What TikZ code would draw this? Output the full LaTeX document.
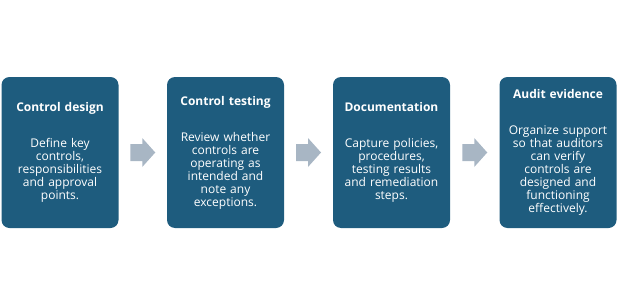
\documentclass[tikz,border=0pt]{standalone}
\usepackage{fontspec}
\setmainfont{Open Sans}
\definecolor{boxblue}{HTML}{1E5C7E}
\definecolor{arrowgray}{HTML}{A8B6C4}
\tikzset{
  stepbox/.style={fill=boxblue, rounded corners=8pt, minimum width=117pt, minimum height=151pt,
    text width=114pt, align=center, inner sep=0pt, text=white,
    font=\fontsize{12}{13}\selectfont},
  flowarrow/.style={fill=arrowgray, draw=none}
}
\newcommand{\boxtitle}[1]{\textbf{#1}\\[23pt]}
\newcommand{\flowarr}[1]{%
  \fill[flowarrow] ($(#1)+(-12.5,-8.5)$) -- ($(#1)+(-0.5,-8.5)$) -- ($(#1)+(-0.5,-14.5)$)
    -- ($(#1)+(12.5,0)$) -- ($(#1)+(-0.5,14.5)$) -- ($(#1)+(-0.5,8.5)$)
    -- ($(#1)+(-12.5,8.5)$) -- cycle;}
\usetikzlibrary{calc}
\begin{document}
\begin{tikzpicture}[x=1pt,y=1pt]
\useasboundingbox (0,0) rectangle (618,306);
\node[stepbox] (b1) at (60,153.5) {\boxtitle{Control design}Define key\\controls,\\responsibilities\\and approval\\points.};
\node[stepbox] (b2) at (225.5,153.5) {\boxtitle{Control testing}Review whether\\controls are\\operating as\\intended and\\note any\\exceptions.};
\node[stepbox] (b3) at (391.5,153.5) {\boxtitle{Documentation}Capture policies,\\procedures,\\testing results\\and remediation\\steps.};
\node[stepbox] (b4) at (558,153.5) {\boxtitle{Audit evidence}Organize support\\so that auditors\\can verify\\controls are\\designed and\\functioning\\effectively.};
\coordinate (a1) at ($(b1.east)!0.5!(b2.west)$);
\coordinate (a2) at ($(b2.east)!0.5!(b3.west)$);
\coordinate (a3) at ($(b3.east)!0.5!(b4.west)$);
\flowarr{a1}
\flowarr{a2}
\flowarr{a3}
\end{tikzpicture}
\end{document}
